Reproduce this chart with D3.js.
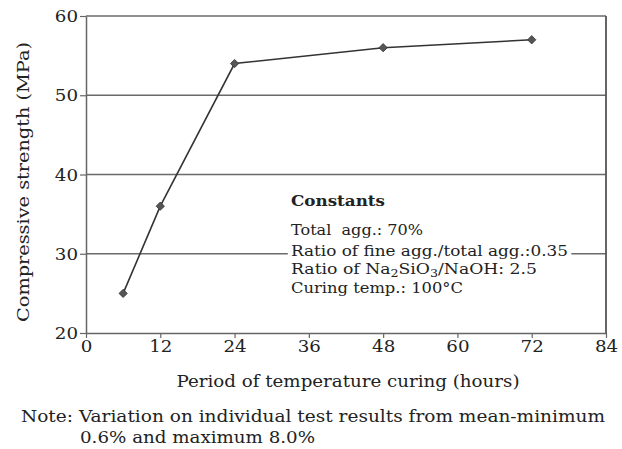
<!DOCTYPE html>
<html>
<head>
<meta charset="utf-8">
<script src="https://cdn.jsdelivr.net/npm/d3@7"></script>
<style>
  body { margin: 0; background: #fff; }
  svg text { font-family: "DejaVu Serif", serif; fill: #222; }
</style>
</head>
<body>
<div id="chart"></div>
<script>
// data
const hours = [6, 12, 24, 48, 72];
const strength = [25, 36, 54, 56, 57];
const xTicks = [0, 12, 24, 36, 48, 60, 72, 84];
const yTicks = [20, 30, 40, 50, 60];
const constantLines = [
    "Total  agg.: 70%",
    "Ratio of fine agg./total agg.:0.35",
    null, // Na2SiO3 line built with subscripts
    "Curing temp.: 100°C"
];

const W = 622, H = 449;
const margin = { top: 16, right: 16, bottom: 116, left: 86 },
    width = W - margin.left - margin.right,
    height = H - margin.top - margin.bottom;

// widen text a little to mimic the wide TeX face
const STRETCH = 1.14;
function stretch(sel, len) {
    sel.each(function () {
        const w = len || this.getComputedTextLength() * STRETCH;
        d3.select(this).attr("textLength", w).attr("lengthAdjust", "spacingAndGlyphs");
    });
}

const svg = d3.select("#chart")
    .append("svg")
    .attr("width", W)
    .attr("height", H);

const g = svg.append("g")
    .attr("transform", `translate(${margin.left},${margin.top})`);

const x = d3.scaleLinear().domain([0, 84]).range([0, width]);
const y = d3.scaleLinear().domain([20, 60]).range([height, 0]);

// grid lines
g.selectAll("line.grid")
    .data(yTicks.filter(d => d > 20))
    .enter().append("line")
    .attr("class", "grid")
    .attr("x1", 0).attr("x2", width)
    .attr("y1", d => y(d)).attr("y2", d => y(d))
    .attr("stroke", "#6a6a6a")
    .attr("stroke-width", 1.3);

// right border
g.append("line")
    .attr("x1", width).attr("x2", width)
    .attr("y1", 0).attr("y2", height)
    .attr("stroke", "#555")
    .attr("stroke-width", 1.8);

// axes
const yAxis = g.append("g")
    .call(d3.axisLeft(y).tickValues(yTicks).tickSize(6).tickSizeOuter(0));
const xAxis = g.append("g")
    .attr("transform", `translate(0,${height})`)
    .call(d3.axisBottom(x).tickValues(xTicks).tickSize(5).tickSizeOuter(0));

[xAxis, yAxis].forEach(a => {
    a.select(".domain").attr("stroke", "#666").attr("stroke-width", 1.5);
    a.selectAll(".tick line").attr("stroke", "#666").attr("stroke-width", 1.2);
    a.selectAll(".tick text").style("font-size", "16px").attr("fill", "#222");
});
yAxis.selectAll(".tick text").attr("x", -8).attr("dy", "0.35em");
xAxis.selectAll(".tick text").attr("y", 8);
stretch(xAxis.selectAll(".tick text"));
stretch(yAxis.selectAll(".tick text"));

// white patch behind the constants text breaks the 30 grid line
g.append("rect")
    .attr("x", x(32.6)).attr("y", y(40) + 8)
    .attr("width", x(78.4) - x(32.6))
    .attr("height", 100)
    .attr("fill", "#fff");

const cx = 291;
const title = svg.append("text")
    .attr("x", cx).attr("y", 206)
    .style("font-size", "15px")
    .style("font-weight", "bold")
    .text("Constants");
stretch(title, 94);

const lineY = [235, 256, 274, 293];
const lineW = [132, 277, null, 172];
constantLines.forEach((t, i) => {
    if (t === null) return;
    const tx = svg.append("text")
        .attr("x", cx).attr("y", lineY[i])
        .style("font-size", "15px")
        .style("white-space", "pre")
        .text(t);
    stretch(tx, lineW[i]);
});
const na = svg.append("text")
    .attr("x", cx).attr("y", lineY[2])
    .style("font-size", "15px");
na.append("tspan").text("Ratio of Na");
na.append("tspan").attr("dy", 3).style("font-size", "11px").text("2");
na.append("tspan").attr("dy", -3).text("SiO");
na.append("tspan").attr("dy", 3).style("font-size", "11px").text("3");
na.append("tspan").attr("dy", -3).text("/NaOH: 2.5");
stretch(na, 246);

// line + markers
const line = d3.line()
    .x((d, i) => x(hours[i]))
    .y(d => y(d));

g.append("path")
    .datum(strength)
    .attr("d", line)
    .attr("fill", "none")
    .attr("stroke", "#333")
    .attr("stroke-width", 1.6);

g.selectAll("path.pt")
    .data(strength)
    .enter().append("path")
    .attr("class", "pt")
    .attr("d", d3.symbol().type(d3.symbolDiamond2).size(44))
    .attr("transform", (d, i) => `translate(${x(hours[i])},${y(d)})`)
    .attr("fill", "#555")
    .attr("stroke", "#333")
    .attr("stroke-width", 0.8);

// axis titles
const yTitle = svg.append("text")
    .attr("text-anchor", "middle")
    .attr("transform", "translate(29,182) rotate(-90)")
    .style("font-size", "16px")
    .text("Compressive strength (MPa)");
stretch(yTitle, 280);

const xTitle = svg.append("text")
    .attr("text-anchor", "middle")
    .attr("x", 348).attr("y", 387)
    .style("font-size", "16px")
    .text("Period of temperature curing (hours)");
stretch(xTitle, 343);

// note
const n1 = svg.append("text")
    .attr("x", 21).attr("y", 422)
    .style("font-size", "16px")
    .text("Note: Variation on individual test results from mean-minimum");
stretch(n1, 584);
const n2 = svg.append("text")
    .attr("x", 80).attr("y", 443)
    .style("font-size", "16px")
    .text("0.6% and maximum 8.0%");
stretch(n2);
</script>
</body>
</html>
